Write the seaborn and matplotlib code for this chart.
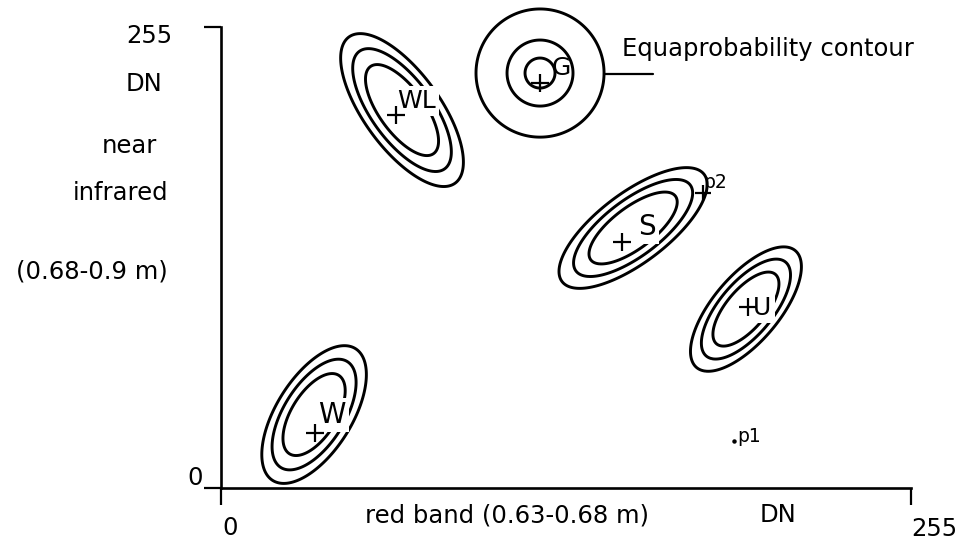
import numpy as np
import pandas as pd
import matplotlib
matplotlib.use("Agg")
import matplotlib.pyplot as plt
import seaborn as sns

# Training classes in red / near-infrared feature space (DN)
class_names = ["W", "WL", "G", "S", "U"]
mean_red = [34.4, 66.9, 117.9, 152.3, 194.0]
mean_nir = [40.4, 209.0, 229.5, 143.7, 98.8]
sd_red = [11.5, 13.5, 5.54, 16.3, 12.2]
sd_nir = [22.7, 25.2, 8.31, 19.9, 20.5]
corr = [0.58, -0.68, 0.0, 0.72, 0.68]
# Mahalanobis radii of the equiprobability contours drawn for each class
contour_levels = [
    [1.0, 1.35, 1.68],
    [1.0, 1.35, 1.68],
    [1.0, 2.2, 4.27],
    [1.0, 1.35, 1.68],
    [1.0, 1.35, 1.68],
]
# class mean vectors (+) and label anchors
centroid_red = [34.7, 64.7, 117.9, 148.2, 194.8]
centroid_nir = [30.2, 206.3, 224.0, 135.9, 99.9]
label_red = [41.0, 72.4, 125.6, 157.4, 200.1]
label_nir = [35.7, 210.0, 228.4, 139.8, 95.5]
label_size = [20, 18, 18, 20, 18]
label_masks_line = [True, True, False, True, True]

# unknown pixels to be classified
pixel_names = ["p1", "p2"]
pixel_red = [189.5, 178.1]
pixel_nir = [25.5, 163.1]

axis_ticks = [0, 255]
axis_tick_labels = ["0", "255"]

sns.set_theme(style="ticks")
plt.rcParams["font.family"] = ["DejaVu Sans"]
plt.rcParams["text.color"] = "black"
FS = 17.5

fig = plt.figure(figsize=(9.72, 5.4), dpi=100)
W, H = 972, 540
ax = fig.add_axes([221 / W, 1 - 487.5 / H, 690 / W, 460.5 / H])

# equiprobability contours from each class's bivariate normal model
gx = np.linspace(-10, 265, 800)
gy = np.linspace(-10, 300, 800)
X, Y = np.meshgrid(gx, gy)
for i in range(len(class_names)):
    dx = (X - mean_red[i]) / sd_red[i]
    dy = (Y - mean_nir[i]) / sd_nir[i]
    r = corr[i]
    d2 = (dx ** 2 - 2 * r * dx * dy + dy ** 2) / (1 - r ** 2)
    cs = ax.contour(X, Y, np.sqrt(d2), levels=contour_levels[i],
                    colors="black", linewidths=2.1, zorder=2)
    cs.set_clip_on(False)

# class labels (a white box breaks the contour lines underneath)
for i, name in enumerate(class_names):
    box = dict(boxstyle="square,pad=0.12", fc="white", ec="none") if label_masks_line[i] else None
    ax.text(label_red[i], label_nir[i], name, fontsize=label_size[i],
            ha="center", va="baseline", zorder=3, bbox=box)

# class means
means = pd.DataFrame({"red": centroid_red, "nir": centroid_nir, "cls": class_names})
sns.scatterplot(data=means, x="red", y="nir", marker="+", s=150,
                color="black", linewidth=1.6, ax=ax, zorder=4, legend=False)

# unknown pixels
ax.plot(pixel_red[1], pixel_nir[1], marker="+", ms=12, mew=1.6,
        color="black", ls="none", zorder=4)
ax.plot(pixel_red[0], pixel_nir[0], marker="o", ms=2.2,
        color="black", ls="none", zorder=4)
ax.annotate(pixel_names[1], (pixel_red[1], pixel_nir[1]), xytext=(12, 5),
            textcoords="offset pixels", ha="center", va="baseline", fontsize=13.5)
ax.annotate(pixel_names[0], (pixel_red[0], pixel_nir[0]), xytext=(3, -1),
            textcoords="offset pixels", ha="left", va="baseline", fontsize=13.5)

# leader from the outer G contour to its caption
g = class_names.index("G")
g_edge = mean_red[g] + contour_levels[g][-1] * sd_red[g]
ax.plot([g_edge, g_edge + 18], [mean_nir[g] - 0.8, mean_nir[g] - 0.8],
        color="black", lw=1.6, clip_on=False, zorder=2)
ax.annotate("Equaprobability contour", (g_edge, mean_nir[g]),
            xytext=(18, 17), textcoords="offset pixels",
            ha="left", va="baseline", fontsize=FS)

# axes: left and bottom spines with outward end ticks
ax.set_xlim(0, 255)
ax.set_ylim(0, 255)
ax.set_xlabel("")
ax.set_ylabel("")
sns.despine(ax=ax)
for s in ["left", "bottom"]:
    ax.spines[s].set_linewidth(1.9)
    ax.spines[s].set_color("black")
ax.set_xticks(axis_ticks)
ax.set_yticks(axis_ticks)
ax.set_xticklabels([])
ax.set_yticklabels([])
ax.tick_params(direction="out", length=12, width=1.6, color="black")
ax.grid(False)

# tick labels
ax.annotate(axis_tick_labels[0], (0, 0), xytext=(9, -47.5), textcoords="offset pixels",
            ha="center", va="baseline", fontsize=FS, annotation_clip=False)
ax.annotate(axis_tick_labels[1], (255, 0), xytext=(23, -48.5), textcoords="offset pixels",
            ha="center", va="baseline", fontsize=FS, annotation_clip=False)
ax.annotate(axis_tick_labels[0], (0, 0), xytext=(-18, 2.5), textcoords="offset pixels",
            ha="right", va="baseline", fontsize=FS, annotation_clip=False)
ax.annotate(axis_tick_labels[1], (0, 255), xytext=(-49, -16), textcoords="offset pixels",
            ha="right", va="baseline", fontsize=FS, annotation_clip=False)

# axis titles
def ftext(px, py, s, ha):
    fig.text(px / W, 1 - py / H, s, ha=ha, va="baseline", fontsize=FS)

ftext(365, 522, "red band (0.63-0.68 m)", "left")
ftext(778, 522, "DN", "center")
ftext(162, 91, "DN", "right")
ftext(157, 153, "near", "right")
ftext(168, 200, "infrared", "right")
ftext(168, 278, "(0.68-0.9 m)", "right")

fig.savefig("out.png", dpi=100, facecolor="white")
